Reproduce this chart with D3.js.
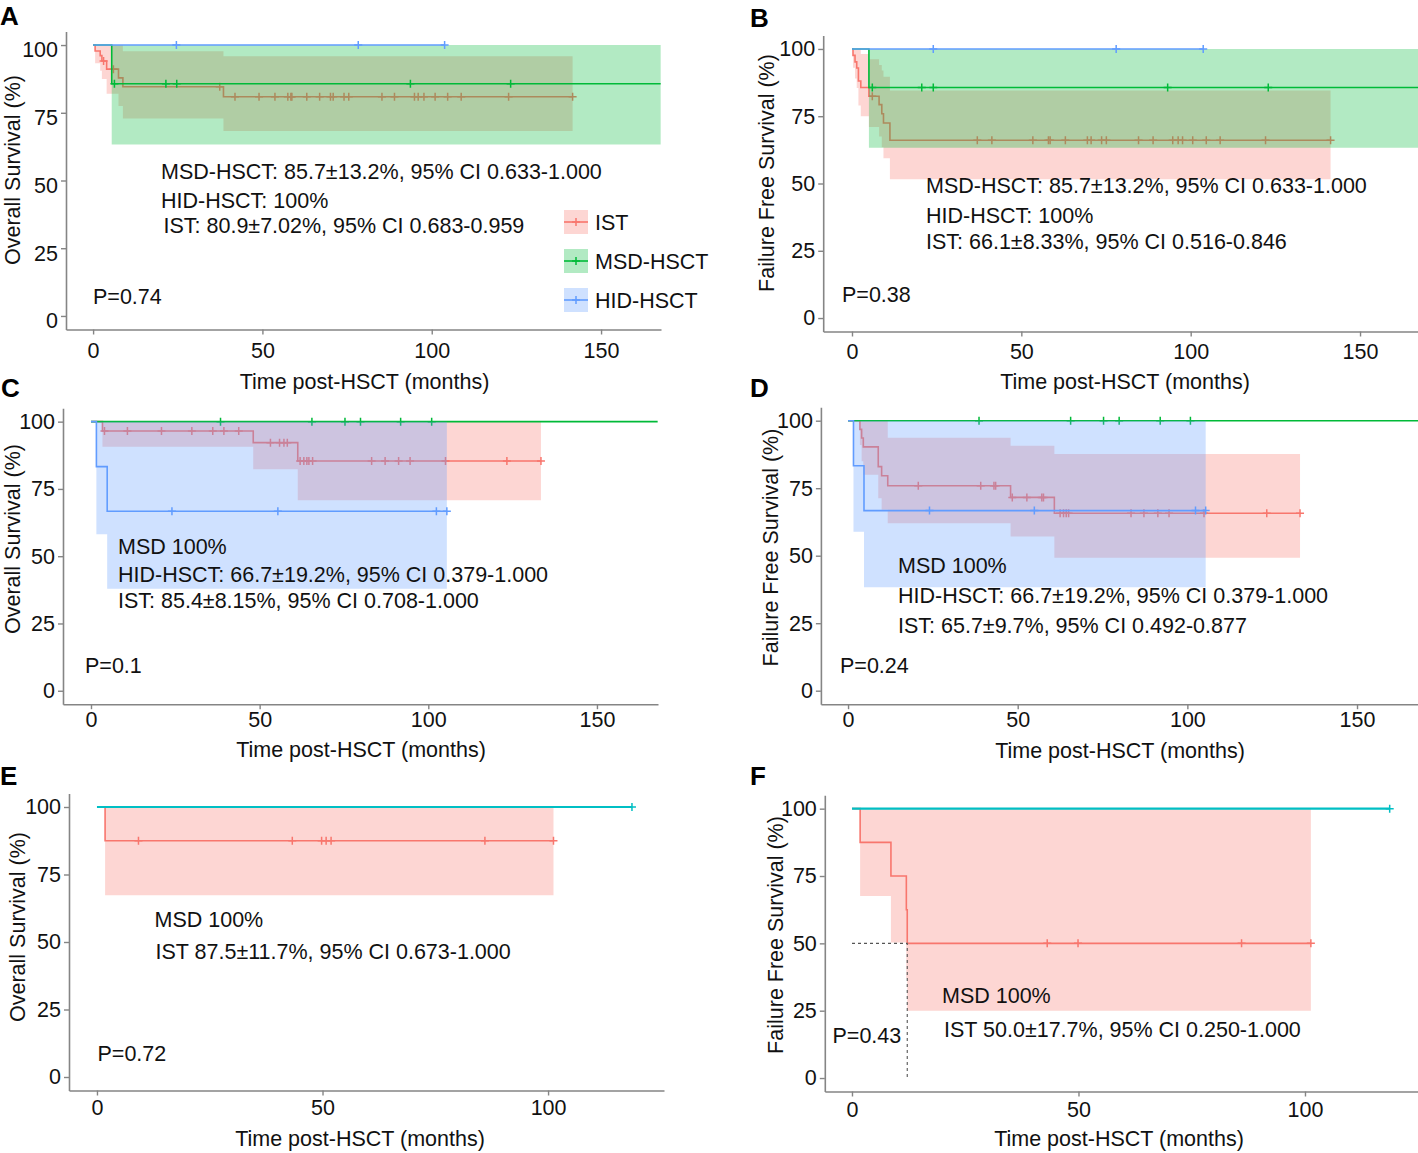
<!DOCTYPE html>
<html>
<head>
<meta charset="utf-8">
<script src="https://d3js.org/d3.v7.min.js"></script>
<style>
  body { margin: 0; background: #fff; }
  svg text { font-family: "Liberation Sans", Arial, sans-serif; }
</style>
</head>
<body>
<svg id="fig" width="1418" height="1153"></svg>
<script>
"use strict";

// ---- ticks ----
var yTicks = [0, 25, 50, 75, 100];
var xTicksWide = [0, 50, 100, 150];
var xTicksShort = [0, 50, 100];
var legendNames = ["IST", "MSD-HSCT", "HID-HSCT"];

// ---- A: overall survival, all patients ----
var aIstT = [0, 0.6, 2.1, 2.6, 4.0, 7.5, 8.8, 38.5, 141.6];
var aIstS = [100, 97.8, 96.1, 94.1, 91.1, 87.9, 84.6, 80.9, 80.9];
var aIstLo = [100, 93.3, 90.5, 87.5, 82.0, 77.5, 72.9, 68.3, 68.3];
var aIstHi = [100, 100, 100, 100, 100, 100, 97.7, 95.9, 95.9];
var aIstCens = [3.1, 6.0, 37.4, 41.9, 49, 53.7, 57.5, 58.4, 58.7, 63.1, 66.9, 70.1, 70.9,
  74.1, 75.5, 85.3, 89, 94.9, 96, 97.7, 101, 104.7, 108.7, 122.7, 141.6];
var aMsdT = [0, 5.5, 167.6];
var aMsdS = [100, 85.7, 85.7];
var aMsdLo = [100, 63.3, 63.3];
var aMsdHi = [100, 100, 100];
var aMsdCens = [6.3, 21.5, 24.7, 93.7, 123.3];
var aHidT = [0, 103.8];
var aHidS = [100, 100];
var aHidCens = [24.6, 78.3, 103.8];

// ---- B: failure free survival, all patients ----
var bIstT = [0, 0.3, 0.9, 1.4, 1.9, 2.6, 5.0, 8.0, 8.8, 9.3, 11.2, 141.3];
var bIstS = [100, 97.6, 95.2, 92.9, 88.1, 85.7, 82.4, 79.3, 75.9, 72.5, 66.1, 66.1];
var bIstLo = [100, 93, 89, 85.5, 79, 75, 71, 67.5, 63.5, 59.4, 51.6, 51.6];
var bIstHi = [100, 100, 100, 100, 100, 98.1, 96.2, 94, 92, 89.7, 84.6, 84.6];
var bIstCens = [6.0, 37, 41.3, 53.4, 58, 58.5, 63, 69.5, 70.6, 73.7, 75.1, 84.6, 88.9,
  94.7, 96.3, 97.6, 100.6, 104.6, 108.7, 122.1, 141.3];
var bMsdT = [0, 5.0, 168];
var bMsdS = [100, 85.7, 85.7];
var bMsdLo = [100, 63.3, 63.3];
var bMsdHi = [100, 100, 100];
var bMsdCens = [6.0, 20.6, 24, 93.2, 122.9];
var bHidT = [0, 103.7];
var bHidS = [100, 100];
var bHidCens = [24, 78, 103.7];

// ---- C: overall survival, subgroup ----
var cIstT = [0, 3.4, 48.1, 61.3, 133.4];
var cIstS = [100, 96.5, 92.2, 85.4, 85.4];
var cIstLo = [100, 90.7, 82.3, 70.8, 70.8];
var cIstHi = [100, 100, 100, 100, 100];
var cIstCens = [4, 10.8, 20.9, 29.9, 36.1, 39.4, 43.8, 53.2, 55.9, 57.2, 58.2, 62, 63.1,
  64, 64.6, 65.7, 83.2, 87.2, 91.2, 94.6, 105.1, 123.3, 133.4];
var cMsdT = [0, 168];
var cMsdS = [100, 100];
var cMsdCens = [38.4, 65.5, 75.3, 79.9, 91.8, 101];
var cHidT = [0, 1.6, 4.8, 105.5];
var cHidS = [100, 83.3, 66.7, 66.7];
var cHidLo = [100, 58.2, 37.9, 37.9];
var cHidHi = [100, 100, 100, 100];
var cHidCens = [24, 55.4, 102.4, 105.5];

// ---- D: failure free survival, subgroup ----
var dIstT = [0, 3.5, 4.0, 4.5, 8.9, 9.9, 11.7, 47.9, 60.8, 133.2];
var dIstS = [100, 96.8, 93.6, 90.3, 83.0, 79.6, 75.9, 71.6, 65.7, 65.7];
var dIstLo = [100, 91, 85, 80, 71.3, 67, 62, 57.1, 49.2, 49.2];
var dIstHi = [100, 100, 100, 100, 100, 100, 93.7, 90.7, 87.7, 87.7];
var dIstCens = [20.7, 39.1, 43, 43.5, 48.4, 52.7, 57.1, 57.6, 62.5, 63.5, 64.3, 65, 83.4,
  87.2, 91.3, 94.6, 104.9, 123.4, 133.2];
var dMsdT = [0, 168];
var dMsdS = [100, 100];
var dMsdCens = [38.6, 65.6, 75.3, 79.9, 92, 100.9];
var dHidT = [0, 1.6, 4.7, 105.4];
var dHidS = [100, 83.3, 66.7, 66.7];
var dHidLo = [100, 58.9, 38.3, 38.3];
var dHidHi = [100, 100, 100, 100];
var dHidCens = [24, 54.9, 102.4, 105.4];

// ---- E: overall survival, second subgroup ----
var eIstT = [0, 1.8, 101.2];
var eIstS = [100, 87.5, 87.5];
var eIstLo = [100, 67.3, 67.3];
var eIstHi = [100, 100, 100];
var eIstCens = [9.2, 43.3, 49.8, 50.8, 51.9, 86, 101.2];
var eMsdT = [0, 118.6];
var eMsdS = [100, 100];
var eMsdCens = [118.6];

// ---- F: failure free survival, second subgroup ----
var fIstT = [0, 1.8, 8.6, 12.0, 12.2, 101.3];
var fIstS = [100, 87.5, 75, 62.5, 50, 50];
var fIstLo = [100, 67.6, 50.3, 37, 25, 25];
var fIstHi = [100, 100, 100, 100, 100, 100];
var fIstCens = [43.1, 49.9, 86, 101.3];
var fMsdT = [0, 118.7];
var fMsdS = [100, 100];
var fMsdCens = [118.7];

var RED = "#F8766D", GREEN = "#00BA38", BLUE = "#619CFF", TEAL = "#00BFC4";
var AXIS = "#858585";

var svg = d3.select("#fig");

function survAt(grp, t) {
  var i = d3.bisectRight(grp.t, t) - 1;
  return grp.s[Math.max(0, i)];
}

function drawPanel(p) {
  var x = d3.scaleLinear().domain(p.xDomain).range(p.xRange);
  var y = d3.scaleLinear().domain([-5, 105]).range(p.yRange);
  var g = svg.append("g");

  p.groups.forEach(function (grp) {
    var rows = grp.t.map(function (t, i) {
      return { t: t, s: grp.s[i], lo: grp.lo ? grp.lo[i] : 0, hi: grp.hi ? grp.hi[i] : 0 };
    });
    if (grp.lo) {
      g.append("path").datum(rows)
        .attr("d", d3.area().curve(d3.curveStepAfter)
          .x(function (d) { return x(d.t); })
          .y0(function (d) { return y(d.lo); })
          .y1(function (d) { return y(d.hi); }))
        .attr("fill", grp.color)
        .attr("fill-opacity", 0.3);
    }
    g.append("path").datum(rows)
      .attr("d", d3.line().curve(d3.curveStepAfter)
        .x(function (d) { return x(d.t); })
        .y(function (d) { return y(d.s); }))
      .attr("fill", "none")
      .attr("stroke", grp.color)
      .attr("stroke-width", grp.width || 1.6);
    g.selectAll(null).data(grp.cens).enter().append("path")
      .attr("transform", function (d) { return "translate(" + x(d) + "," + y(survAt(grp, d)) + ")"; })
      .attr("d", "M-4,0H4M0,-4V4")
      .attr("fill", "none")
      .attr("stroke", grp.color)
      .attr("stroke-width", 1.5);
  });

  // median guide lines (panel F)
  if (p.median) {
    g.append("path")
      .attr("d", "M" + x(0) + "," + y(50) + "H" + x(p.median) + "V" + y(0))
      .attr("fill", "none")
      .attr("stroke", "#555")
      .attr("stroke-width", 1.1)
      .attr("stroke-dasharray", "3,3");
  }

  var ya = g.append("g")
    .attr("transform", "translate(" + p.xRange[0] + ",0)")
    .call(d3.axisLeft(y).tickValues(yTicks).tickSize(5).tickSizeOuter(0).tickPadding(3));
  var xa = g.append("g")
    .attr("transform", "translate(0," + p.yRange[0] + ")")
    .call(d3.axisBottom(x).tickValues(p.xTicks).tickSize(5).tickSizeOuter(0).tickPadding(p.xPad));
  [ya, xa].forEach(function (a) {
    a.attr("font-family", null).attr("font-size", null);
    a.select(".domain").attr("stroke", AXIS).attr("stroke-width", 1.6);
    a.selectAll(".tick line").attr("stroke", AXIS).attr("stroke-width", 1.4);
    a.selectAll(".tick text").attr("fill", "#111").style("font-size", "21.5px");
  });
  // panel A prints its y labels a few pixels low
  ya.selectAll(".tick text").attr("y", p.yShift || 0);

  // annotations
  p.notes.forEach(function (n) {
    g.append("text").attr("x", n[0]).attr("y", n[1])
      .style("font-size", "21.5px").attr("fill", "#111").text(n[2]);
  });

  g.append("text")
    .attr("x", p.xTitle[0]).attr("y", p.xTitle[1])
    .attr("text-anchor", "middle")
    .style("font-size", "21.5px").attr("fill", "#111")
    .text("Time post-HSCT (months)");

  g.append("text")
    .attr("transform", "translate(" + p.yTitle[0] + "," + p.yTitle[1] + ") rotate(-90)")
    .attr("text-anchor", "middle")
    .attr("dy", "0.35em")
    .style("font-size", "21.5px").attr("fill", "#111")
    .text(p.yTitle[2]);

  g.append("text")
    .attr("x", p.letter[0]).attr("y", p.letter[1])
    .style("font-size", "26px").style("font-weight", "bold").attr("fill", "#000")
    .text(p.letter[2]);

  if (p.legend) {
    var lg = g.append("g");
    p.legend.forEach(function (item, i) {
      var cy = item.y;
      lg.append("rect").attr("x", 564).attr("y", cy - 12).attr("width", 24).attr("height", 24)
        .attr("fill", item.color).attr("fill-opacity", 0.3);
      lg.append("path").attr("d", "M564," + cy + "H588")
        .attr("stroke", item.color).attr("stroke-width", 1.6);
      lg.append("path").attr("transform", "translate(576," + cy + ")")
        .attr("d", "M-4,0H4M0,-4V4").attr("stroke", item.color).attr("stroke-width", 1.5);
      lg.append("text").attr("x", 595).attr("y", cy + 8)
        .style("font-size", "21.5px").attr("fill", "#111").text(legendNames[i]);
    });
  }
}

var panels = [
  {
    xDomain: [-8, 167.7], xRange: [66, 661], yRange: [329.5, 31.5], xTicks: xTicksWide,
    xPad: 8, yShift: 5,
    groups: [
      { t: aIstT, s: aIstS, lo: aIstLo, hi: aIstHi, cens: aIstCens, color: RED },
      { t: aMsdT, s: aMsdS, lo: aMsdLo, hi: aMsdHi, cens: aMsdCens, color: GREEN },
      { t: aHidT, s: aHidS, cens: aHidCens, color: BLUE }
    ],
    notes: [
      [161, 179, "MSD-HSCT: 85.7\u00b113.2%, 95% CI 0.633-1.000"],
      [161, 207.5, "HID-HSCT: 100%"],
      [163.5, 233, "IST: 80.9\u00b17.02%, 95% CI 0.683-0.959"],
      [93, 303.5, "P=0.74"]
    ],
    xTitle: [364.5, 388.5], yTitle: [12, 170, "Overall Survival (%)"], letter: [0, 25, "A"],
    legend: [{ y: 222, color: RED }, { y: 261, color: GREEN }, { y: 300, color: BLUE }]
  },
  {
    xDomain: [-8.5, 168], xRange: [823.2, 1421], yRange: [331.5, 35.5], xTicks: xTicksWide,
    xPad: 7.5,
    groups: [
      { t: bIstT, s: bIstS, lo: bIstLo, hi: bIstHi, cens: bIstCens, color: RED },
      { t: bMsdT, s: bMsdS, lo: bMsdLo, hi: bMsdHi, cens: bMsdCens, color: GREEN },
      { t: bHidT, s: bHidS, cens: bHidCens, color: BLUE }
    ],
    notes: [
      [926, 193, "MSD-HSCT: 85.7\u00b113.2%, 95% CI 0.633-1.000"],
      [926, 222.5, "HID-HSCT: 100%"],
      [926, 248.5, "IST: 66.1\u00b18.33%, 95% CI 0.516-0.846"],
      [842, 302, "P=0.38"]
    ],
    xTitle: [1125, 388.5], yTitle: [766, 173, "Failure Free Survival (%)"], letter: [750, 27, "B"]
  },
  {
    xDomain: [-8.3, 168.1], xRange: [63, 658], yRange: [704.2, 408.2], xTicks: xTicksWide,
    xPad: 2.5,
    groups: [
      { t: cIstT, s: cIstS, lo: cIstLo, hi: cIstHi, cens: cIstCens, color: RED },
      { t: cMsdT, s: cMsdS, cens: cMsdCens, color: GREEN },
      { t: cHidT, s: cHidS, lo: cHidLo, hi: cHidHi, cens: cHidCens, color: BLUE }
    ],
    notes: [
      [118, 554, "MSD 100%"],
      [118, 582, "HID-HSCT: 66.7\u00b119.2%, 95% CI 0.379-1.000"],
      [118, 608, "IST: 85.4\u00b18.15%, 95% CI 0.708-1.000"],
      [85, 672.5, "P=0.1"]
    ],
    xTitle: [361, 756.5], yTitle: [12, 539, "Overall Survival (%)"], letter: [1, 397, "C"]
  },
  {
    xDomain: [-8, 168], xRange: [820.9, 1418.1], yRange: [704.2, 407.2], xTicks: xTicksWide,
    xPad: 3,
    groups: [
      { t: dIstT, s: dIstS, lo: dIstLo, hi: dIstHi, cens: dIstCens, color: RED },
      { t: dMsdT, s: dMsdS, cens: dMsdCens, color: GREEN },
      { t: dHidT, s: dHidS, lo: dHidLo, hi: dHidHi, cens: dHidCens, color: BLUE }
    ],
    notes: [
      [898, 572.5, "MSD 100%"],
      [898, 602.5, "HID-HSCT: 66.7\u00b119.2%, 95% CI 0.379-1.000"],
      [898, 632.5, "IST: 65.7\u00b19.7%, 95% CI 0.492-0.877"],
      [840, 672.5, "P=0.24"]
    ],
    xTitle: [1120, 757.5], yTitle: [770, 547.5, "Failure Free Survival (%)"], letter: [750, 397, "D"]
  },
  {
    xDomain: [-6.2, 125.7], xRange: [69, 664], yRange: [1090.5, 793.5], xTicks: xTicksShort,
    xPad: 4.5,
    groups: [
      { t: eIstT, s: eIstS, lo: eIstLo, hi: eIstHi, cens: eIstCens, color: RED },
      { t: eMsdT, s: eMsdS, cens: eMsdCens, color: TEAL, width: 2.2 }
    ],
    notes: [
      [154.5, 927, "MSD 100%"],
      [155.5, 958.5, "IST 87.5\u00b111.7%, 95% CI 0.673-1.000"],
      [97.5, 1061, "P=0.72"]
    ],
    xTitle: [360, 1145.5], yTitle: [17, 927, "Overall Survival (%)"], letter: [0, 785, "E"]
  },
  {
    xDomain: [-6, 125.7], xRange: [824.8, 1421.4], yRange: [1091.5, 795.2], xTicks: xTicksShort,
    xPad: 5, median: 12.2,
    groups: [
      { t: fIstT, s: fIstS, lo: fIstLo, hi: fIstHi, cens: fIstCens, color: RED },
      { t: fMsdT, s: fMsdS, cens: fMsdCens, color: TEAL, width: 2.2 }
    ],
    notes: [
      [942, 1002.5, "MSD 100%"],
      [944, 1037, "IST 50.0\u00b117.7%, 95% CI 0.250-1.000"],
      [832.5, 1042.5, "P=0.43"]
    ],
    xTitle: [1119, 1145.5], yTitle: [775, 935, "Failure Free Survival (%)"], letter: [750, 785, "F"]
  }
];

panels.forEach(drawPanel);
</script>
</body>
</html>
